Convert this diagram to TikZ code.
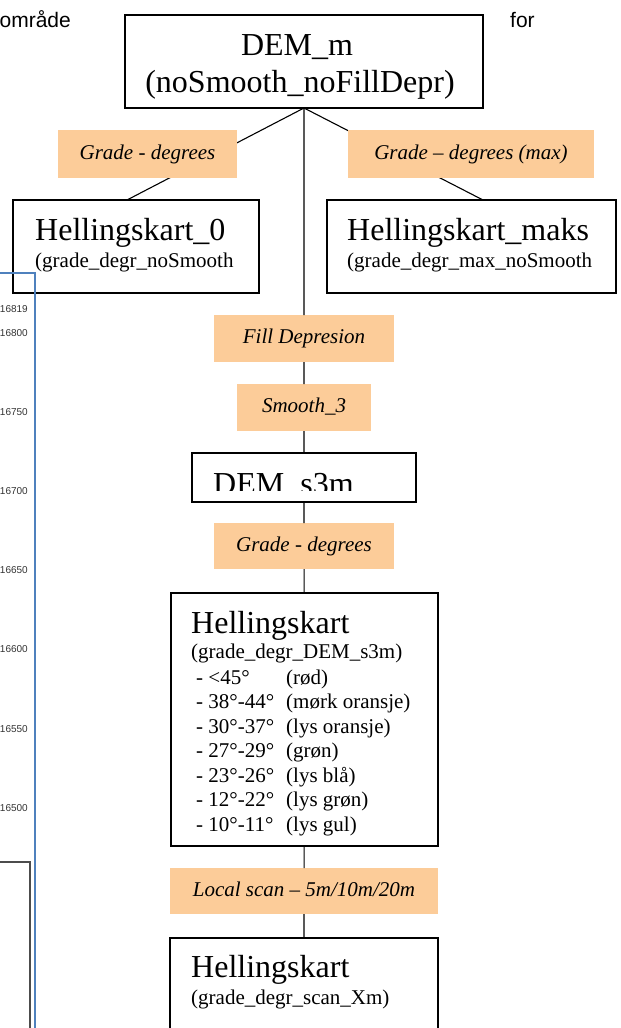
\documentclass[tikz,border=0pt]{standalone}
\usepackage{fontspec}
\setmainfont{Liberation Serif}
\newfontfamily\arialfont{Liberation Sans}
\usepackage{tikz}
\usetikzlibrary{backgrounds}
\definecolor{tanfill}{RGB}{252,204,153}
\definecolor{mapblue}{RGB}{79,129,189}

\begin{document}
\begin{tikzpicture}[
        x=1pt,
        y=-1pt,
        box/.style={draw=black, line width=1.3pt, fill=white, inner sep=0pt, outer sep=0pt, anchor=north west},
        tool/.style={fill=tanfill, inner sep=0pt, outer sep=0pt, anchor=north west, text height=15pt, text depth=5pt,
            font=\fontsize{21}{24}\selectfont\itshape},
        big/.style={inner sep=0pt, anchor=base west, font=\fontsize{32}{37}\selectfont},
        small/.style={inner sep=0pt, anchor=base west, font=\fontsize{21}{24}\selectfont},
        link/.style={line width=1.1pt},
        ticklab/.style={inner sep=0pt, anchor=east, text=black!80, font=\arialfont\fontsize{10}{12}\selectfont},
        pagetext/.style={inner sep=0pt, font=\arialfont\fontsize{21}{25}\selectfont}
    ]
        \useasboundingbox (0,0) rectangle (621,1028);
        \clip (0,0) rectangle (621,1028);

        \node[pagetext, anchor=base east] (omr) at (71,27) {område};
        \node[pagetext, anchor=base west] (for) at (510,27) {for};

        \node[box, minimum width=358pt, minimum height=93pt] (demm) at (125,15) {};
        \node[big, anchor=base] (demmname) at (297,55) {DEM\_m};
        \node[big, anchor=base] (demmsub) at (300,92) {(noSmooth\_noFillDepr)};

        \node[tool, minimum width=179pt, minimum height=48pt] (gradeleft) at (58,130) {Grade - degrees};
        \node[tool, minimum width=246pt, minimum height=48pt] (graderight) at (348,130) {Grade – degrees (max)};

        \node[box, minimum width=246pt, minimum height=93pt] (hkzero) at (13,200) {};
        \node[big] (hkzeroname) at (35,240) {Hellingskart\_0};
        \node[small] (hkzerosub) at (35,267) {(grade\_degr\_noSmooth};
        \node[box, minimum width=289pt, minimum height=93pt] (hkmaks) at (327,200) {};
        \node[big] (hkmaksname) at (347,240) {Hellingskart\_maks};
        \node[small] (hkmakssub) at (347,267) {(grade\_degr\_max\_noSmooth};

        \node[tool, minimum width=180pt, minimum height=47pt] (filldepr) at (214,315) {Fill Depresion};
        \node[tool, minimum width=134pt, minimum height=47pt] (smooth) at (237,384) {Smooth\_3};
        \node[box, minimum width=224pt, minimum height=49pt] (dems) at (192,453) {};
        \begin{scope}
            \clip (193,454) rectangle (415,490);
            \node[big] (demsname) at (213,494) {DEM\_s3m};
        \end{scope}
        \node[tool, minimum width=180pt, minimum height=46pt] (grademid) at (214,523) {Grade - degrees};

        \node[box, minimum width=267pt, minimum height=253pt] (hk) at (171,593) {};
        \node[big] (hkname) at (191,633) {Hellingskart};
        \node[small] (hksub) at (191,658) {(grade\_degr\_DEM\_s3m)};
        \foreach \deg/\col [count=\i] in {{<45°}/rød, 38°-44°/mørk oransje, 30°-37°/lys oransje,
                27°-29°/grøn, 23°-26°/lys blå, 12°-22°/lys grøn, 10°-11°/lys gul} {
            \node[small] (deg\i) at (196,{684+24.5*(\i-1)}) {- \deg};
            \node[small] (col\i) at (286,{684+24.5*(\i-1)}) {(\col)};
        }

        \node[tool, minimum width=268pt, minimum height=46pt] (localscan) at (170,868) {Local scan – 5m/10m/20m};
        \node[box, minimum width=268pt, minimum height=120pt] (hkscan) at (170,938) {};
        \node[big] (hkscanname) at (191,977) {Hellingskart};
        \node[small] (hkscansub) at (191,1004) {(grade\_degr\_scan\_Xm)};

        \begin{scope}[on background layer]
            \draw[link] (demm.south) -- ([xshift=-9pt]hkzero.north);
            \draw[link] (demm.south) -- ([xshift=11.5pt]hkmaks.north);
        \end{scope}
        \draw[link] (demm) -- (filldepr) -- (smooth) -- (dems) -- (grademid) -- (hk) -- (localscan) -- (hkscan);

        \draw[mapblue, line width=1.5pt] (0,273) -- (35,273) -- (35,1035);
        \draw[black!70, line width=1.5pt] (0,862) -- (30,862) -- (30,1035);
        \foreach \y/\lab in {309/16819,333/16800,412/16750,491/16700,570/16650,649/16600,729/16550,808/16500} {
            \node[ticklab] (t\lab) at (28,\y) {\lab};
        }
    \end{tikzpicture}
\end{document}
